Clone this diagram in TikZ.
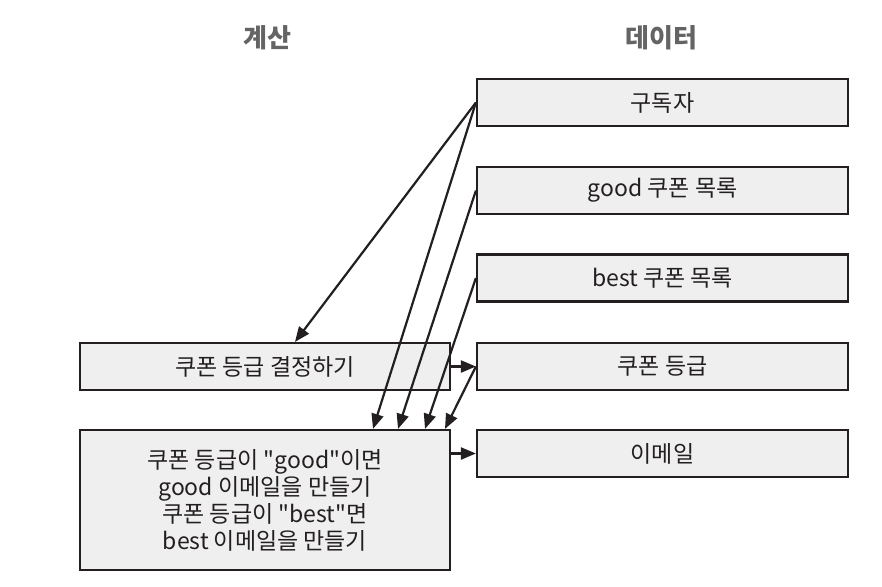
\documentclass[tikz,border=0pt]{standalone}
\usepackage{fontspec}
\setmainfont{Noto Sans CJK KR}
\usepackage{tikz}
\usetikzlibrary{arrows.meta, positioning}
\definecolor{boxgrey}{RGB}{239,239,239}
\definecolor{inkdark}{RGB}{35,31,32}
\definecolor{headgrey}{RGB}{100,100,100}
\tikzset{
  databox/.style={draw=inkdark, line width=2.2pt, fill=boxgrey, minimum width=371pt,
    minimum height=47pt, inner sep=0pt, text=inkdark, font=\fontsize{23}{27}\selectfont},
  calcbox/.style={databox, minimum width=370pt, align=center},
  flow/.style={draw=inkdark, line width=2.2pt, -{Triangle[length=15pt, width=12pt]}},
  header/.style={text=headgrey, font=\bfseries\fontsize{26}{30}\selectfont}
}
\begin{document}
\begin{tikzpicture}[x=1pt, y=-1pt]
      \useasboundingbox (0,0) rectangle (882,586);
      % Column headers
      \node[header] (hcalc) at (267,38) {계산};
      \node[header] (hdata) at (661.5,38) {데이터};
      % Data column
      \node[databox] (sub) at (662.5,102.5) {구독자};
      \node[databox] (goodlist) at (662.5,190.5) {good 쿠폰 목록};
      \node[databox] (bestlist) at (662.5,278) {best 쿠폰 목록};
      \node[databox] (grade) at (662.5,366.5) {쿠폰 등급};
      \node[databox] (email) at (662.5,453.5) {이메일};
      % Calculation column
      \node[calcbox] (decide) at (265,366.5) {쿠폰 등급 결정하기};
      \node[calcbox, minimum height=140pt] (make) at (265,500) {쿠폰 등급이 \textquotedbl good\textquotedbl 이면\\ good 이메일을 만들기\\쿠폰 등급이 \textquotedbl best\textquotedbl 면\\ best 이메일을 만들기};
      % Inputs
      \draw[flow] (sub.west) -- ([xshift=30pt]decide.north);
      \draw[flow] (sub.west) -- ([xshift=108pt]make.north);
      \draw[flow] (goodlist.west) -- ([xshift=133pt]make.north);
      \draw[flow] (bestlist.west) -- ([xshift=160pt]make.north);
      \draw[flow] (grade.west) -- ([xshift=180pt]make.north);
      % Outputs
      \draw[flow] (decide.east) -- (grade.west);
      \draw[flow] (make.east |- email.west) -- (email.west);
    \end{tikzpicture}
\end{document}
